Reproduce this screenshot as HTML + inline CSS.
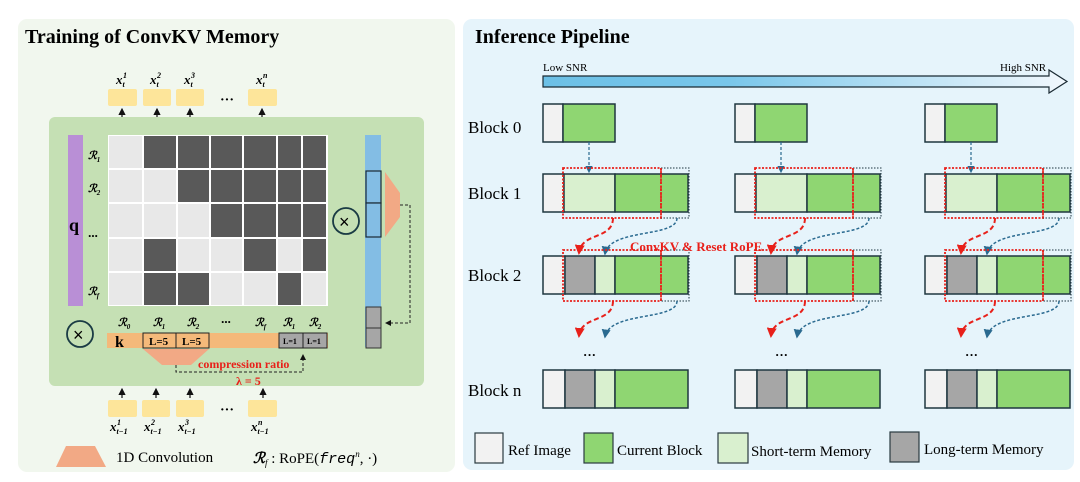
<!DOCTYPE html>
<html><head><meta charset="utf-8"><style>
html,body{margin:0;padding:0;background:#fff;}
svg{display:block;font-family:"Liberation Serif",serif;}
</style></head><body>
<svg width="1080" height="482" viewBox="0 0 1080 482" xmlns="http://www.w3.org/2000/svg">
<defs>
<marker id="ab" markerWidth="6" markerHeight="6" refX="5" refY="3" orient="auto"><path d="M0,0 L6,3 L0,6 Z" fill="#111"/></marker>
<marker id="ar" markerWidth="5" markerHeight="5" refX="4" refY="2.5" orient="auto"><path d="M0,0 L5,2.5 L0,5 Z" fill="#e8201a"/></marker>
<marker id="abl" markerWidth="6" markerHeight="6" refX="5" refY="3" orient="auto"><path d="M0,0 L6,3 L0,6 Z" fill="#2a6a90"/></marker>
<linearGradient id="g" x1="0" x2="1"><stop offset="0" stop-color="#6cc0e6"/><stop offset="0.35" stop-color="#78c6ea"/><stop offset="1" stop-color="#f2f8fd"/></linearGradient>
</defs>
<!-- LEFT PANEL -->
<rect x="18" y="19" width="437" height="453" rx="9" fill="#f1f7ee"/>
<text x="25" y="43" font-size="20" font-weight="bold">Training of ConvKV Memory</text>
<g fill="#fde59a">
<rect x="108" y="89" width="29" height="17" rx="2"/><rect x="143" y="89" width="28" height="17" rx="2"/><rect x="176" y="89" width="28" height="17" rx="2"/><rect x="248" y="89" width="29" height="17" rx="2"/>
<rect x="108" y="400" width="29" height="17" rx="2"/><rect x="142" y="400" width="28" height="17" rx="2"/><rect x="176" y="400" width="28" height="17" rx="2"/><rect x="248" y="400" width="29" height="17" rx="2"/>
</g>
<g font-size="13" font-weight="bold" font-style="italic">
<text x="116" y="84">x<tspan font-size="8" dy="3">t</tspan><tspan font-size="8" x="123" dy="-9">1</tspan></text>
<text x="150" y="84">x<tspan font-size="8" dy="3">t</tspan><tspan font-size="8" x="157" dy="-9">2</tspan></text>
<text x="184" y="84">x<tspan font-size="8" dy="3">t</tspan><tspan font-size="8" x="191" dy="-9">3</tspan></text>
<text x="256" y="84">x<tspan font-size="8" dy="3">t</tspan><tspan font-size="8" x="263" dy="-9">n</tspan></text>
<text x="110" y="431">x<tspan font-size="8" dy="3">t−1</tspan><tspan font-size="8" x="117" dy="-9">1</tspan></text>
<text x="144" y="431">x<tspan font-size="8" dy="3">t−1</tspan><tspan font-size="8" x="151" dy="-9">2</tspan></text>
<text x="178" y="431">x<tspan font-size="8" dy="3">t−1</tspan><tspan font-size="8" x="185" dy="-9">3</tspan></text>
<text x="251" y="431">x<tspan font-size="8" dy="3">t−1</tspan><tspan font-size="8" x="258" dy="-9">n</tspan></text>
</g>
<text x="220" y="104" font-size="14" font-weight="bold">···</text>
<text x="220" y="414" font-size="14" font-weight="bold">···</text>
<g stroke="#111" stroke-width="1.2" marker-end="url(#ab)">
<line x1="122" y1="118" x2="122" y2="109"/><line x1="157" y1="118" x2="157" y2="109"/><line x1="190" y1="118" x2="190" y2="109"/><line x1="262" y1="118" x2="262" y2="109"/>
<line x1="122" y1="398" x2="122" y2="389"/><line x1="156" y1="398" x2="156" y2="389"/><line x1="190" y1="398" x2="190" y2="389"/><line x1="263" y1="398" x2="263" y2="389"/>
</g>
<rect x="49" y="117" width="375" height="269" rx="6" fill="#c5e0b4"/>
<rect x="68" y="135" width="15" height="171" fill="#b98fd6"/>
<text x="69" y="231" font-size="18" font-weight="bold">q</text>
<rect x="108" y="135" width="220" height="171" fill="#fff"/>
<g id="grid"></g>
<g font-size="11" font-style="italic" font-weight="bold">
<text x="88" y="159">ℛ<tspan font-size="7" dy="3">1</tspan></text>
<text x="88" y="192">ℛ<tspan font-size="7" dy="3">2</tspan></text>
<text x="88" y="240" font-size="13">···</text>
<text x="88" y="295">ℛ<tspan font-size="7" dy="3">f</tspan></text>
<text x="118" y="326">ℛ<tspan font-size="7" dy="3">0</tspan></text>
<text x="153" y="326">ℛ<tspan font-size="7" dy="3">1</tspan></text>
<text x="187" y="326">ℛ<tspan font-size="7" dy="3">2</tspan></text>
<text x="221" y="326" font-size="13">···</text>
<text x="255" y="326">ℛ<tspan font-size="7" dy="3">f</tspan></text>
<text x="283" y="326">ℛ<tspan font-size="7" dy="3">1</tspan></text>
<text x="309" y="326">ℛ<tspan font-size="7" dy="3">2</tspan></text>
</g>
<rect x="107" y="333" width="221" height="15" fill="#f4b97a"/>
<text x="115" y="347" font-size="16" font-weight="bold">k</text>
<rect x="143" y="333" width="33" height="15" fill="#f4b97a" stroke="#222" stroke-width="1"/>
<rect x="176" y="333" width="33" height="15" fill="#f4b97a" stroke="#222" stroke-width="1"/>
<text x="149" y="345" font-size="11" font-weight="bold">L=5</text><text x="182" y="345" font-size="11" font-weight="bold">L=5</text>
<rect x="279" y="333" width="24" height="15" fill="#a6a6a6" stroke="#222"/>
<rect x="303" y="333" width="24" height="15" fill="#a6a6a6" stroke="#222"/>
<text x="283" y="344" font-size="8" font-weight="bold">L=1</text><text x="307" y="344" font-size="8" font-weight="bold">L=1</text>
<path d="M143,349 L209,349 L191,365 L162,365 Z" fill="#f2a985"/>
<path d="M176,365 L176,372 L303,372 L303,355" fill="none" stroke="#222" stroke-dasharray="3,2" marker-end="url(#ab)"/>
<text x="198" y="368" font-size="12" font-weight="bold" fill="#e8201a">compression ratio</text>
<text x="236" y="385" font-size="12" font-weight="bold" fill="#e8201a">λ = 5</text>
<rect x="365" y="135" width="16" height="212" fill="#83bde4"/>
<rect x="366" y="171" width="15" height="32" fill="#83bde4" stroke="#1a2a33" stroke-width="1.2"/>
<rect x="366" y="203" width="15" height="34" fill="#83bde4" stroke="#1a2a33" stroke-width="1.2"/>
<rect x="366" y="307" width="15" height="21" fill="#a6a6a6" stroke="#333"/>
<rect x="366" y="328" width="15" height="20" fill="#a6a6a6" stroke="#333"/>
<path d="M385,172 L400,193 L400,217 L385,237 Z" fill="#f2a985"/>
<path d="M400,205 L410,205 L410,323 L386,323" fill="none" stroke="#222" stroke-dasharray="3,2" marker-end="url(#ab)"/>
<g fill="none" stroke="#1a3b44" stroke-width="1.8">
<circle cx="346" cy="221" r="13"/><circle cx="80" cy="334" r="13"/>
</g>
<text x="339" y="228" font-size="18" font-family="Liberation Sans,sans-serif">×</text>
<text x="73" y="341" font-size="18" font-family="Liberation Sans,sans-serif">×</text>
<path d="M56,467 L66,446 L95,446 L106,467 Z" fill="#f2a985"/>
<text x="116" y="462" font-size="15">1D Convolution</text>
<text x="253" y="463" font-size="15"><tspan font-style="italic" font-weight="bold">ℛ</tspan><tspan font-size="9" font-style="italic" dy="3">f</tspan><tspan dy="-3"> : RoPE(</tspan><tspan font-style="italic" font-family="Liberation Mono,monospace">freq</tspan><tspan font-size="9" dy="-6" font-style="italic">n</tspan><tspan dy="6">, ·)</tspan></text>

<!-- RIGHT PANEL -->
<rect x="463" y="19" width="611" height="451" rx="9" fill="#e6f4fb"/>
<text x="475" y="43" font-size="20" font-weight="bold">Inference Pipeline</text>
<text x="543" y="71" font-size="11">Low SNR</text>
<text x="1000" y="71" font-size="11">High SNR</text>
<path d="M543,76 L1049,76 L1049,70 L1067,81.5 L1049,93 L1049,87 L543,87 Z" fill="url(#g)" stroke="#1a2a33" stroke-width="1.2"/>
<g font-size="17">
<text x="468" y="133">Block 0</text><text x="468" y="199">Block 1</text><text x="468" y="281">Block 2</text><text x="468" y="396">Block n</text>
</g>
<g id="cols"></g>
<g stroke="#2a3a40" stroke-width="1.2">
<rect x="475" y="433" width="28" height="30" fill="#f2f2f2"/>
<rect x="584" y="433" width="29" height="30" fill="#8fd672"/>
<rect x="718" y="433" width="30" height="30" fill="#d9f0cf"/>
<rect x="890" y="432" width="29" height="30" fill="#a6a6a6"/>
</g>
<g font-size="15">
<text x="508" y="455">Ref Image</text><text x="617" y="455">Current Block</text><text x="751" y="456">Short-term Memory</text><text x="924" y="454">Long-term Memory</text>
</g>
<text x="630" y="251" font-size="13" font-weight="bold" fill="#e8201a">ConvKV &amp; Reset RoPE</text>
</svg>
<script>
(function(){
var NS="http://www.w3.org/2000/svg";
function el(p,t,a){var e=document.createElementNS(NS,t);for(var k in a)e.setAttribute(k,a[k]);p.appendChild(e);return e;}
var g=document.getElementById('grid');
var xs=[108,143,177,210,243,277,302,327],ys=[135,169,203,238,272,306];
var P=["0111111","0011111","0001111","0100101","0110010"];
for(var r=0;r<5;r++)for(var c=0;c<7;c++){el(g,'rect',{x:xs[c]+1,y:ys[r]+1,width:xs[c+1]-xs[c]-2,height:ys[r+1]-ys[r]-2,fill:P[r][c]=='1'?'#595959':'#e8e8e8'});}
var cg=document.getElementById('cols');
var st={stroke:'#1f3640','stroke-width':1.5};
function R(x,y,w,h,f){var a={x:x,y:y,width:w,height:h,fill:f};for(var k in st)a[k]=st[k];el(cg,'rect',a);}
[0,192,382].forEach(function(d){
 var x=543+d;
 R(x,104,20,38,'#f2f2f2');R(x+20,104,52,38,'#8fd672');
 el(cg,'line',{x1:x+46,y1:142,x2:x+46,y2:172,stroke:'#2a6a90','stroke-width':1.2,'stroke-dasharray':'3,2','marker-end':'url(#abl)'});
 R(x,174,21,38,'#f2f2f2');R(x+21,174,51,38,'#d9f0cf');R(x+72,174,73,38,'#8fd672');
 [256,370].forEach(function(y){R(x,y,22,38,'#f2f2f2');R(x+22,y,30,38,'#a6a6a6');R(x+52,y,20,38,'#d9f0cf');R(x+72,y,73,38,'#8fd672');});
 [[168,212],[250,295]].forEach(function(p){
  var y0=p[0],y1=p[1];
  el(cg,'rect',{x:x+20,y:y0,width:98,height:y1+6-y0,fill:'none',stroke:'#e8201a','stroke-width':1.8,'stroke-dasharray':'2,1.5'});
  el(cg,'path',{d:'M'+(x+118)+','+y0+' L'+(x+146)+','+y0+' L'+(x+146)+','+(y1+6)+' L'+(x+118)+','+(y1+6),fill:'none',stroke:'#1f3640','stroke-width':1,'stroke-dasharray':'1.5,1.5'});
  el(cg,'line',{x1:x+118,y1:y0,x2:x+118,y2:y1+6,stroke:'#e8201a','stroke-width':1.5,'stroke-dasharray':'4,2'});
  var yb=y1+6,ye=yb+38;
  el(cg,'path',{d:'M'+(x+70)+','+yb+' C'+(x+70)+','+(yb+22)+' '+(x+38)+','+(yb+14)+' '+(x+36)+','+(ye-3),fill:'none',stroke:'#e8201a','stroke-width':2,'stroke-dasharray':'5,3','marker-end':'url(#ar)'});
  el(cg,'path',{d:'M'+(x+134)+','+yb+' C'+(x+134)+','+(yb+20)+' '+(x+66)+','+(yb+10)+' '+(x+62)+','+(ye-2),fill:'none',stroke:'#2a6a90','stroke-width':1.5,'stroke-dasharray':'3,2','marker-end':'url(#abl)'});
 });
 var t=el(cg,'text',{x:x+40,y:359,'font-size':13,'font-weight':'bold'});t.textContent='···';
});
})();
</script>
</body></html>
